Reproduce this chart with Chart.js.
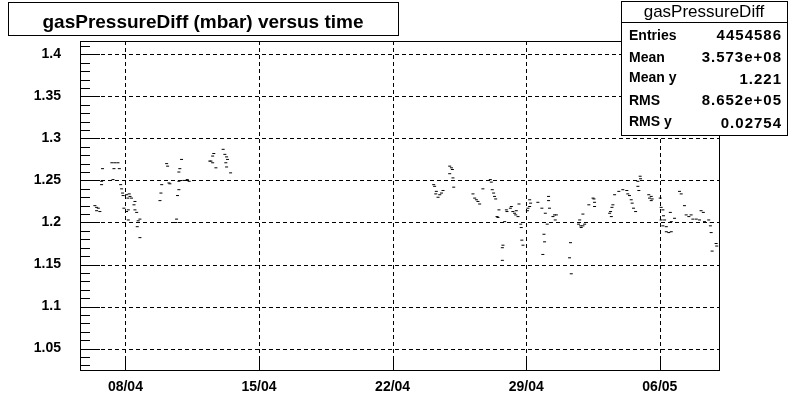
<!DOCTYPE html>
<html lang="en">
<head>
  <meta charset="UTF-8">
  <title>gasPressureDiff (mbar) versus time</title>
  <script src="https://cdn.jsdelivr.net/npm/chart.js"></script>
  <style>
    html, body { margin: 0; padding: 0; background: #fff; }
    canvas { display: block; }
  </style>
</head>
<body>
  <canvas id="gasChart" width="799" height="412"></canvas>

  <script>
    // x values are days of April (32 = 02/05, 36 = 06/05 ...)
    const xTickValues = [8, 15, 22, 29, 36];
    const xTickLabels = ['08/04', '15/04', '22/04', '29/04', '06/05'];
    const yTickValues = [1.05, 1.1, 1.15, 1.2, 1.25, 1.3, 1.35, 1.4];
    const yTickLabels = ['1.05', '1.1', '1.15', '1.2', '1.25', '1.3', '1.35', '1.4'];

    const dayValues = [
      6.40, 6.49, 6.49, 6.58, 6.66, 6.75, 6.75, 6.80, 7.29, 7.35, 7.40, 7.45, 7.61, 7.68,
      7.75, 7.80, 7.85, 7.88, 7.92, 8.06, 8.06, 8.13, 8.15, 8.15, 8.20, 8.24, 8.32, 8.45,
      8.50, 8.50, 8.59, 8.62, 8.67, 8.76, 8.76,
      9.81, 9.86, 9.90, 10.16, 10.21, 10.28, 10.33, 10.64, 10.68, 10.73, 10.80, 10.80, 10.80,
      10.85, 10.94, 11.06, 11.24, 11.34,
      12.42, 12.48, 12.57, 12.57, 12.63, 12.74, 13.12, 13.21, 13.26, 13.30, 13.30, 13.35, 13.51,
      24.15, 24.20, 24.26, 24.29, 24.38, 24.47, 24.56, 24.64, 24.99, 24.99, 25.08, 25.13, 25.16,
      25.20, 26.21, 26.30, 26.39, 26.47, 26.56, 26.73, 27.12, 27.17, 27.22, 27.29, 27.34, 27.40,
      27.47, 27.52, 27.57, 27.75, 27.75, 27.78, 27.87, 27.96, 27.99, 28.17, 28.22, 28.30, 28.39,
      28.45, 28.48, 28.57, 28.62, 28.71, 28.74, 28.77, 28.83, 29.06, 29.09, 29.18, 29.18, 29.23,
      29.61, 29.82, 29.87, 29.93, 29.96, 30.00, 30.10, 30.17, 30.17, 30.22, 30.40, 30.48, 30.52,
      30.58, 31.27, 31.32, 31.36, 31.74, 31.80, 31.85, 31.88, 31.97, 31.97, 32.06, 32.11, 32.28,
      32.50, 32.55, 32.58, 32.58, 33.37, 33.42, 33.46, 33.49, 33.54, 33.63, 33.85, 34.06, 34.27,
      34.32, 34.41, 34.50, 34.55, 34.62, 34.73, 34.85, 34.85, 34.90, 34.97, 34.99, 35.42, 35.46,
      35.55, 35.55, 35.60, 36.02, 36.07, 36.07, 36.16, 36.16, 36.19, 36.25, 36.34, 36.34, 36.47,
      36.55, 36.60, 36.60, 36.77, 37.03, 37.12, 37.29, 37.38, 37.52, 37.64, 37.73, 37.91, 38.08,
      38.16, 38.28, 38.34, 38.56, 38.65, 38.69, 38.69, 38.74, 38.95, 38.98
    ];
    const pressureValues = [
      1.220, 1.218, 1.214, 1.217, 1.213, 1.249, 1.245, 1.264, 1.271, 1.251, 1.264, 1.271, 1.271, 1.264,
      1.245, 1.240, 1.235, 1.232, 1.217, 1.233, 1.213, 1.229, 1.203, 1.215, 1.234, 1.231, 1.229, 1.221,
      1.225, 1.215, 1.212, 1.195, 1.202, 1.204, 1.182,
      1.226, 1.235, 1.245, 1.270, 1.267, 1.247, 1.246, 1.200, 1.204, 1.232, 1.239, 1.249, 1.260,
      1.264, 1.275, 1.250, 1.251, 1.249,
      1.273, 1.273, 1.271, 1.279, 1.282, 1.265, 1.287, 1.281, 1.271, 1.278, 1.266, 1.275, 1.259,
      1.245, 1.243, 1.234, 1.237, 1.230, 1.233, 1.235, 1.238, 1.267, 1.258, 1.265, 1.263, 1.253,
      1.242, 1.234, 1.229, 1.227, 1.225, 1.222, 1.240, 1.251, 1.248, 1.239, 1.235, 1.231, 1.228,
      1.207, 1.206, 1.215, 1.170, 1.155, 1.173, 1.201, 1.215, 1.213, 1.217, 1.219, 1.213, 1.211,
      1.209, 1.214, 1.207, 1.222, 1.198, 1.194, 1.179, 1.173, 1.214, 1.217, 1.227, 1.219, 1.223,
      1.224, 1.217, 1.162, 1.186, 1.177, 1.211, 1.198, 1.231, 1.226, 1.217, 1.207, 1.209, 1.203,
      1.209, 1.158, 1.176, 1.139, 1.198, 1.203, 1.196, 1.194, 1.196, 1.210, 1.198, 1.200, 1.221,
      1.229, 1.228, 1.224, 1.219, 1.211, 1.213, 1.207, 1.218, 1.221, 1.233, 1.237, 1.239, 1.238,
      1.234, 1.232, 1.227, 1.223, 1.217, 1.213, 1.249, 1.243, 1.238, 1.255, 1.252, 1.233, 1.229,
      1.231, 1.226, 1.228, 1.229, 1.218, 1.203, 1.215, 1.196, 1.208, 1.203, 1.195, 1.189, 1.188,
      1.212, 1.189, 1.201, 1.205, 1.237, 1.234, 1.220, 1.209, 1.207, 1.209, 1.204, 1.204, 1.203,
      1.214, 1.212, 1.201, 1.203, 1.196, 1.200, 1.188, 1.166, 1.175, 1.172
    ];

    const statsLabels = ['Entries', 'Mean', 'Mean y', 'RMS', 'RMS y'];
    const statsValues = ['4454586', '3.573e+08', '1.221', '8.652e+05', '0.02754'];

    const FONT = '"Liberation Sans", Arial, sans-serif';

    // ROOT-like frame, dashed grid, inside ticks, title and stats boxes
    const rootStyle = {
      id: 'rootStyle',
      beforeDatasetsDraw(chart) {
        const { ctx, chartArea: a, scales: { x, y } } = chart;
        ctx.save();
        ctx.strokeStyle = '#000';
        ctx.lineWidth = 1;
        ctx.setLineDash([4, 3]);
        ctx.beginPath();
        xTickValues.forEach(v => {
          const px = Math.round(x.getPixelForValue(v)) + 0.5;
          ctx.moveTo(px, a.top);
          ctx.lineTo(px, a.bottom);
        });
        yTickValues.forEach(v => {
          const py = Math.round(y.getPixelForValue(v)) + 0.5;
          ctx.moveTo(a.left, py);
          ctx.lineTo(a.right, py);
        });
        ctx.stroke();
        ctx.restore();
      },
      afterDatasetsDraw(chart) {
        const { ctx, chartArea: a, scales: { x, y } } = chart;
        ctx.save();
        ctx.strokeStyle = '#000';
        ctx.lineWidth = 1;
        ctx.beginPath();
        // y ticks: major every 0.05, minor every 0.01
        for (let i = 103; i <= 141; i++) {
          const py = Math.round(y.getPixelForValue(i / 100)) + 0.5;
          if (py < a.top || py > a.bottom) continue;
          const len = i % 5 === 0 ? 20 : 10;
          ctx.moveTo(a.left, py);
          ctx.lineTo(a.left + len, py);
        }
        xTickValues.forEach(v => {
          const px = Math.round(x.getPixelForValue(v)) + 0.5;
          ctx.moveTo(px, a.bottom);
          ctx.lineTo(px, a.bottom - 10);
        });
        ctx.stroke();
        ctx.strokeRect(Math.round(a.left) + 0.5, Math.round(a.top) + 0.5,
          Math.round(a.right - a.left), Math.round(a.bottom - a.top));
        ctx.restore();
      },
      afterDraw(chart) {
        const { ctx } = chart;
        ctx.save();
        ctx.strokeStyle = '#000';
        ctx.lineWidth = 1;
        ctx.fillStyle = '#fff';

        // title box
        ctx.fillRect(8, 2, 390, 33);
        ctx.strokeRect(8.5, 2.5, 390, 33);
        ctx.fillStyle = '#000';
        ctx.font = 'bold 19px ' + FONT;
        ctx.textAlign = 'center';
        ctx.textBaseline = 'alphabetic';
        ctx.fillText('gasPressureDiff (mbar) versus time', 203, 28);

        // stats box
        const bx = 621, by = 1, bw = 166, bh = 134;
        ctx.fillStyle = '#fff';
        ctx.fillRect(bx, by, bw, bh);
        ctx.strokeRect(bx + 0.5, by + 0.5, bw, bh);
        ctx.beginPath();
        ctx.moveTo(bx, 22.5);
        ctx.lineTo(bx + bw, 22.5);
        ctx.stroke();
        ctx.fillStyle = '#000';
        ctx.font = '17px ' + FONT;
        ctx.textAlign = 'center';
        ctx.fillText('gasPressureDiff', bx + bw / 2, 17);
        const rowY = [40, 62, 82, 105, 126];
        statsLabels.forEach((lab, i) => {
          ctx.font = 'bold 14px ' + FONT;
          ctx.letterSpacing = '0px';
          ctx.textAlign = 'left';
          ctx.fillText(lab, bx + 8, rowY[i]);
          ctx.font = 'bold 15px ' + FONT;
          ctx.letterSpacing = '1px';
          ctx.textAlign = 'right';
          ctx.fillText(statsValues[i], bx + bw - 5, rowY[i] + (i === 2 || i === 4 ? 2 : 0));
        });
        ctx.restore();
      }
    };

    const points = dayValues.map((d, i) => ({ x: d, y: pressureValues[i] }));

    new Chart(document.getElementById('gasChart').getContext('2d'), {
      type: 'scatter',
      data: {
        datasets: [{
          label: 'gasPressureDiff',
          data: points,
          pointStyle: 'line',
          pointRadius: 1.5,
          borderColor: '#000',
          backgroundColor: '#000',
          borderWidth: 1,
          pointHoverRadius: 1.5
        }]
      },
      options: {
        responsive: false,
        animation: false,
        events: [],
        layout: { padding: { top: 41, right: 80, left: 0, bottom: 0 } },
        plugins: {
          legend: { display: false },
          tooltip: { enabled: false },
          title: { display: false }
        },
        scales: {
          x: {
            type: 'linear',
            min: 5.62,
            max: 39.1,
            grid: { display: false },
            border: { display: false },
            afterBuildTicks: s => { s.ticks = xTickValues.map(v => ({ value: v })); },
            afterFit: s => { s.height = 42; },
            ticks: {
              color: '#000',
              padding: 1,
              maxRotation: 0,
              font: { family: FONT, size: 14, weight: 'bold' },
              callback: (v, i) => xTickLabels[i]
            }
          },
          y: {
            type: 'linear',
            min: 1.0246,
            max: 1.4158,
            grid: { display: false },
            border: { display: false },
            afterBuildTicks: s => { s.ticks = yTickValues.map(v => ({ value: v })); },
            afterFit: s => { s.width = 80; },
            ticks: {
              color: '#000',
              padding: 11,
              font: { family: FONT, size: 14, weight: 'bold' },
              callback: (v, i) => yTickLabels[i]
            }
          }
        }
      },
      plugins: [rootStyle]
    });
  </script>
</body>
</html>
